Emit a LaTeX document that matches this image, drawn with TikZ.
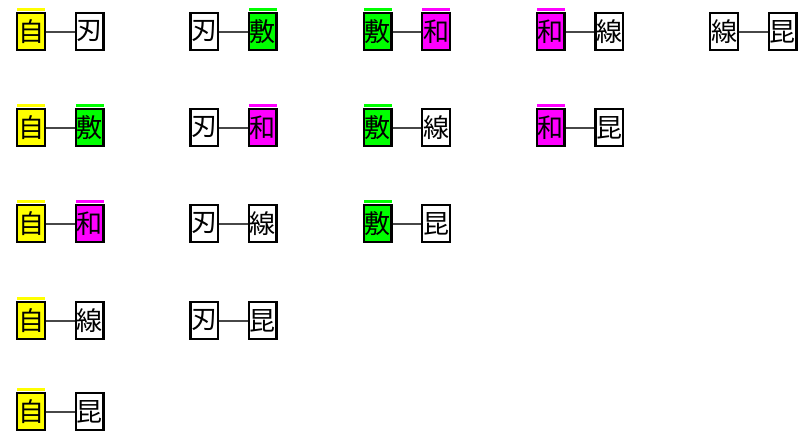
\documentclass[tikz,border=0pt]{standalone}
\usepackage{fontspec}
\usepackage{tikz}
\newfontfamily\jpfont{Noto Sans CJK JP}

\definecolor{tagyellow}{RGB}{255,255,0}
\definecolor{taggreen}{RGB}{0,255,0}
\definecolor{tagmagenta}{RGB}{255,0,255}

\newcommand{\kanji}[1]{\ifcase#1 自\or 刃\or 敷\or 和\or 線\or 昆\fi}

\begin{document}
\begin{tikzpicture}[x=1pt, y=-1pt]
    \tikzset{
        kbox/.style={draw, line width=2.4pt, minimum width=27.6pt, minimum height=36.6pt,
            inner sep=0pt, font=\jpfont\fontsize{26}{26}\selectfont},
        tagbar/.style={fill=#1, label={[fill=#1, minimum width=28pt, minimum height=3pt,
            inner sep=0pt, label distance=1pt]above:{}}},
        k0/.style={tagbar=tagyellow},
        k1/.style={},
        k2/.style={tagbar=taggreen},
        k3/.style={tagbar=tagmagenta},
        k4/.style={},
        k5/.style={},
        link/.style={draw=black!72, line width=2pt}
    }
    \useasboundingbox (0,0) rectangle (800,434);

    % Coppie (i,j): colonna i, riga j-i-1
    \foreach \i in {0,...,4} {
        \foreach \j in {\i,...,5} {
            \ifnum\j>\i
                \pgfmathtruncatemacro{\r}{\j-\i-1}
                \pgfmathsetmacro{\yy}{{31.5,127.5,223.5,320.5,411.5}[\r]}
                \pgfmathsetmacro{\xx}{31+173.25*\i}
                \node[kbox, k\i] (a\i\j) at (\xx, \yy) {\kanji{\i}};
                \node[kbox, k\j] (b\i\j) at (\xx+58.5, \yy) {\kanji{\j}};
                \draw[link] (a\i\j) -- (b\i\j);
            \fi
        }
    }
\end{tikzpicture}
\end{document}
